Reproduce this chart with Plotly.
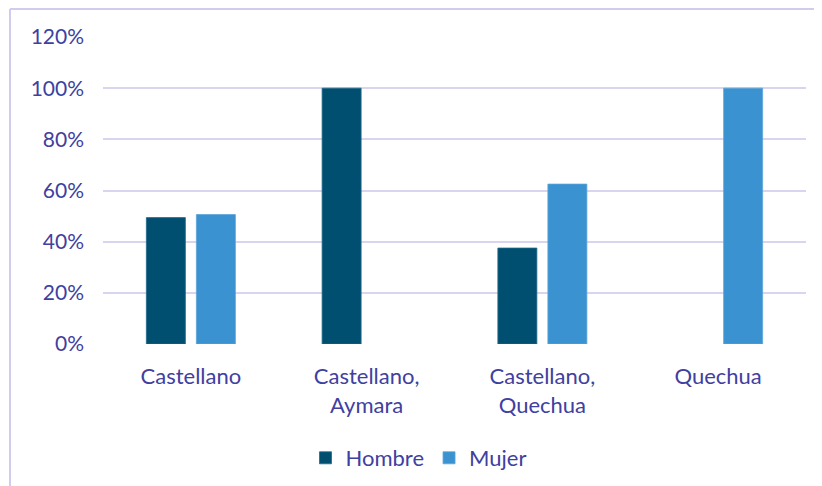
import plotly.graph_objects as go

categories = ["Castellano", "Castellano,<br>Aymara", "Castellano,<br>Quechua", "Quechua"]
hombre = [0.494, 1.0, 0.375, None]
mujer = [0.506, None, 0.625, 1.0]
y_ticks = [0, 0.2, 0.4, 0.6, 0.8, 1.0, 1.2]
y_tick_labels = ["0%", "20%", "40%", "60%", "80%", "100%", "120%"]

TEXT = "#4040A0"
GRID = "#D9D5F0"
FONT = "Lato"

# page shows the figure offset by 8px (body margin); compensate
OFF = 8
W, H = 822, 486
L, R, T, B = 103 - OFF, 24, 37 - OFF, 150
pw, ph = W - L - R, H - T - B

def px_x(x):
    return (x - OFF - L) / pw

def px_y(y):
    return (H - B - (y - OFF)) / ph

fig = go.Figure()
fig.add_trace(go.Bar(x=categories, y=hombre, name="Hombre",
                     marker=dict(color="#004F71", line=dict(color="#1F6A8A", width=0.8))))
fig.add_trace(go.Bar(x=categories, y=mujer, name="Mujer",
                     marker=dict(color="#3A92D0", line=dict(color="#5AA6DA", width=0.8))))

fig.update_layout(
    width=W, height=H,
    margin=dict(l=L, r=R, t=T, b=B, autoexpand=False),
    paper_bgcolor="white", plot_bgcolor="white",
    barmode="group", bargap=0.431, bargroupgap=0.22,
    font=dict(family=FONT, size=22, color=TEXT),
    showlegend=True,
    legend=dict(orientation="h", x=0.5 - 36 / pw, xanchor="center", y=px_y(458), yanchor="middle",
                font=dict(family=FONT, size=22, color=TEXT), itemwidth=30,
                traceorder="normal", bgcolor="rgba(0,0,0,0)"),
    xaxis=dict(showgrid=False, showline=False, zeroline=False, ticks="",
               tickfont=dict(family=FONT, size=22, color=TEXT), ticklabelstandoff=17),
    yaxis=dict(range=[0, 1.2], tickvals=y_ticks, ticktext=y_tick_labels,
               showgrid=True, gridcolor=GRID, gridwidth=1.5, zeroline=False, showline=False,
               ticks="", ticklabelstandoff=18,
               tickfont=dict(family=FONT, size=21, color=TEXT)),
    shapes=[
        dict(type="line", xref="paper", yref="paper", x0=px_x(10), x1=px_x(10),
             y0=px_y(9), y1=px_y(530), line=dict(color="#D0CCF0", width=2)),
        dict(type="line", xref="paper", yref="paper", x0=px_x(10), x1=px_x(860),
             y0=px_y(9), y1=px_y(9), line=dict(color="#D0CCF0", width=2)),
    ],
)

fig.write_html("out.html")
